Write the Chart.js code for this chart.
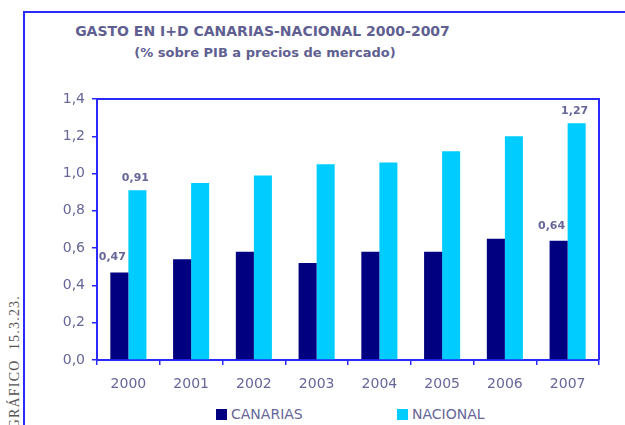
<!DOCTYPE html>
<html>
<head>
<meta charset="utf-8">
<script src="https://cdn.jsdelivr.net/npm/chart.js@4.4.1/dist/chart.umd.min.js"></script>
<style>
  html, body { margin: 0; padding: 0; background: #fff; }
  #wrap { position: relative; width: 625px; height: 425px; overflow: hidden; font-family: "DejaVu Sans", Verdana, sans-serif; }
  #frame { position: absolute; left: 23px; top: 11px; width: 640px; height: 450px; border-top: 2px solid #2a2aff; border-left: 2px solid #2a2aff; }
  #title { position: absolute; left: 0; width: 525px; top: 23px; text-align: center; font-weight: bold; font-size: 14px; color: #5f5f92; }
  #subtitle { position: absolute; left: 0; width: 530px; top: 45px; text-align: center; font-weight: bold; font-size: 13px; color: #5f5f92; }
  #side { position: absolute; left: 7px; top: 295px; writing-mode: vertical-rl; transform: rotate(180deg); font-family: "Liberation Serif", serif; font-size: 14px; letter-spacing: 1.2px; color: #555; white-space: pre; }
  #legend { position: absolute; top: 406px; left: 0; font-size: 14px; color: #666699; }
  .item { position: absolute; top: 0; white-space: nowrap; }
  .sw { display: inline-block; width: 11px; height: 11px; vertical-align: -1px; margin-right: 4px; }
  canvas { position: absolute; left: 0; top: 0; }
</style>
</head>
<body>
<div id="wrap">
  <div id="frame"></div>
  <div id="title">GASTO EN I+D CANARIAS-NACIONAL 2000-2007</div>
  <div id="subtitle">(% sobre PIB a precios de mercado)</div>
  <div id="side">GRÁFICO  15.3.23.</div>
  <div id="legend"></div>
  <canvas id="c" width="625" height="425"></canvas>
</div>
<script>
// Gasto en I+D como % del PIB
const years = ["2000", "2001", "2002", "2003", "2004", "2005", "2006", "2007"];
const canarias = [0.47, 0.54, 0.58, 0.52, 0.58, 0.58, 0.65, 0.64];
const nacional = [0.91, 0.95, 0.99, 1.05, 1.06, 1.12, 1.20, 1.27];
const seriesNames = ["CANARIAS", "NACIONAL"];
const seriesColors = ["#000080", "#00ccff"];
const yTicks = [0, 0.2, 0.4, 0.6, 0.8, 1.0, 1.2, 1.4];
const labelledIdx = [0, 7];

const axisBlue = "#2a2aff";
const textColor = "#666699";
const fmt = v => v.toFixed(2).replace(".", ",");

// Legend entries
const legend = document.getElementById("legend");
const legendX = [216, 397];
seriesNames.forEach((name, i) => {
  const el = document.createElement("div");
  el.className = "item";
  el.style.left = legendX[i] + "px";
  el.innerHTML = '<span class="sw" style="background:' + seriesColors[i] + '"></span>' + name;
  legend.appendChild(el);
});

// Blue rectangle around the plot area (top and right edges)
const plotFrame = {
  id: "plotFrame",
  afterDraw(chart) {
    const a = chart.chartArea, ctx = chart.ctx;
    ctx.save();
    ctx.strokeStyle = axisBlue;
    ctx.lineWidth = 2;
    ctx.beginPath();
    ctx.moveTo(a.left, a.top);
    ctx.lineTo(a.right, a.top);
    ctx.lineTo(a.right, a.bottom);
    ctx.stroke();
    ctx.restore();
  }
};

// Value labels on the first and last year
const valueLabels = {
  id: "valueLabels",
  afterDatasetsDraw(chart) {
    const ctx = chart.ctx;
    ctx.save();
    ctx.font = "bold 11px 'DejaVu Sans'";
    ctx.fillStyle = textColor;
    ctx.textAlign = "center";
    ctx.textBaseline = "middle";
    chart.data.datasets.forEach((ds, di) => {
      const meta = chart.getDatasetMeta(di);
      labelledIdx.forEach(i => {
        const bar = meta.data[i];
        const dx = di === 0 ? -7 : -2;
        const dy = di === 0 ? -15 : -12;
        ctx.fillText(fmt(ds.data[i]), bar.x + dx, bar.y + dy);
      });
    });
    ctx.restore();
  }
};

new Chart(document.getElementById("c"), {
  type: "bar",
  data: {
    labels: years,
    datasets: [
      { label: seriesNames[0], data: canarias, backgroundColor: seriesColors[0] },
      { label: seriesNames[1], data: nacional, backgroundColor: seriesColors[1] }
    ]
  },
  options: {
    responsive: false,
    animation: false,
    layout: { padding: { top: 99, right: 26, bottom: 25, left: 0 } },
    datasets: { bar: { categoryPercentage: 0.575, barPercentage: 1.0 } },
    plugins: { legend: { display: false }, tooltip: { enabled: false } },
    scales: {
      x: {
        grid: { offset: true, drawOnChartArea: false, tickLength: 5, color: axisBlue, lineWidth: 1.5 },
        border: { color: axisBlue, width: 2 },
        ticks: { color: textColor, font: { family: "DejaVu Sans", size: 14 }, padding: 11 },
        afterFit(s) { s.height = 40; }
      },
      y: {
        min: 0, max: 1.4,
        afterBuildTicks(s) { s.ticks = yTicks.map(v => ({ value: v })); },
        grid: { drawOnChartArea: false, tickLength: 5, color: axisBlue, lineWidth: 1.5 },
        border: { color: axisBlue, width: 2 },
        ticks: { color: textColor, font: { family: "DejaVu Sans", size: 14 }, padding: 7,
                 callback: v => v.toFixed(1).replace(".", ",") },
        afterFit(s) { s.width = 97; }
      }
    }
  },
  plugins: [plotFrame, valueLabels]
});
</script>
</body>
</html>
